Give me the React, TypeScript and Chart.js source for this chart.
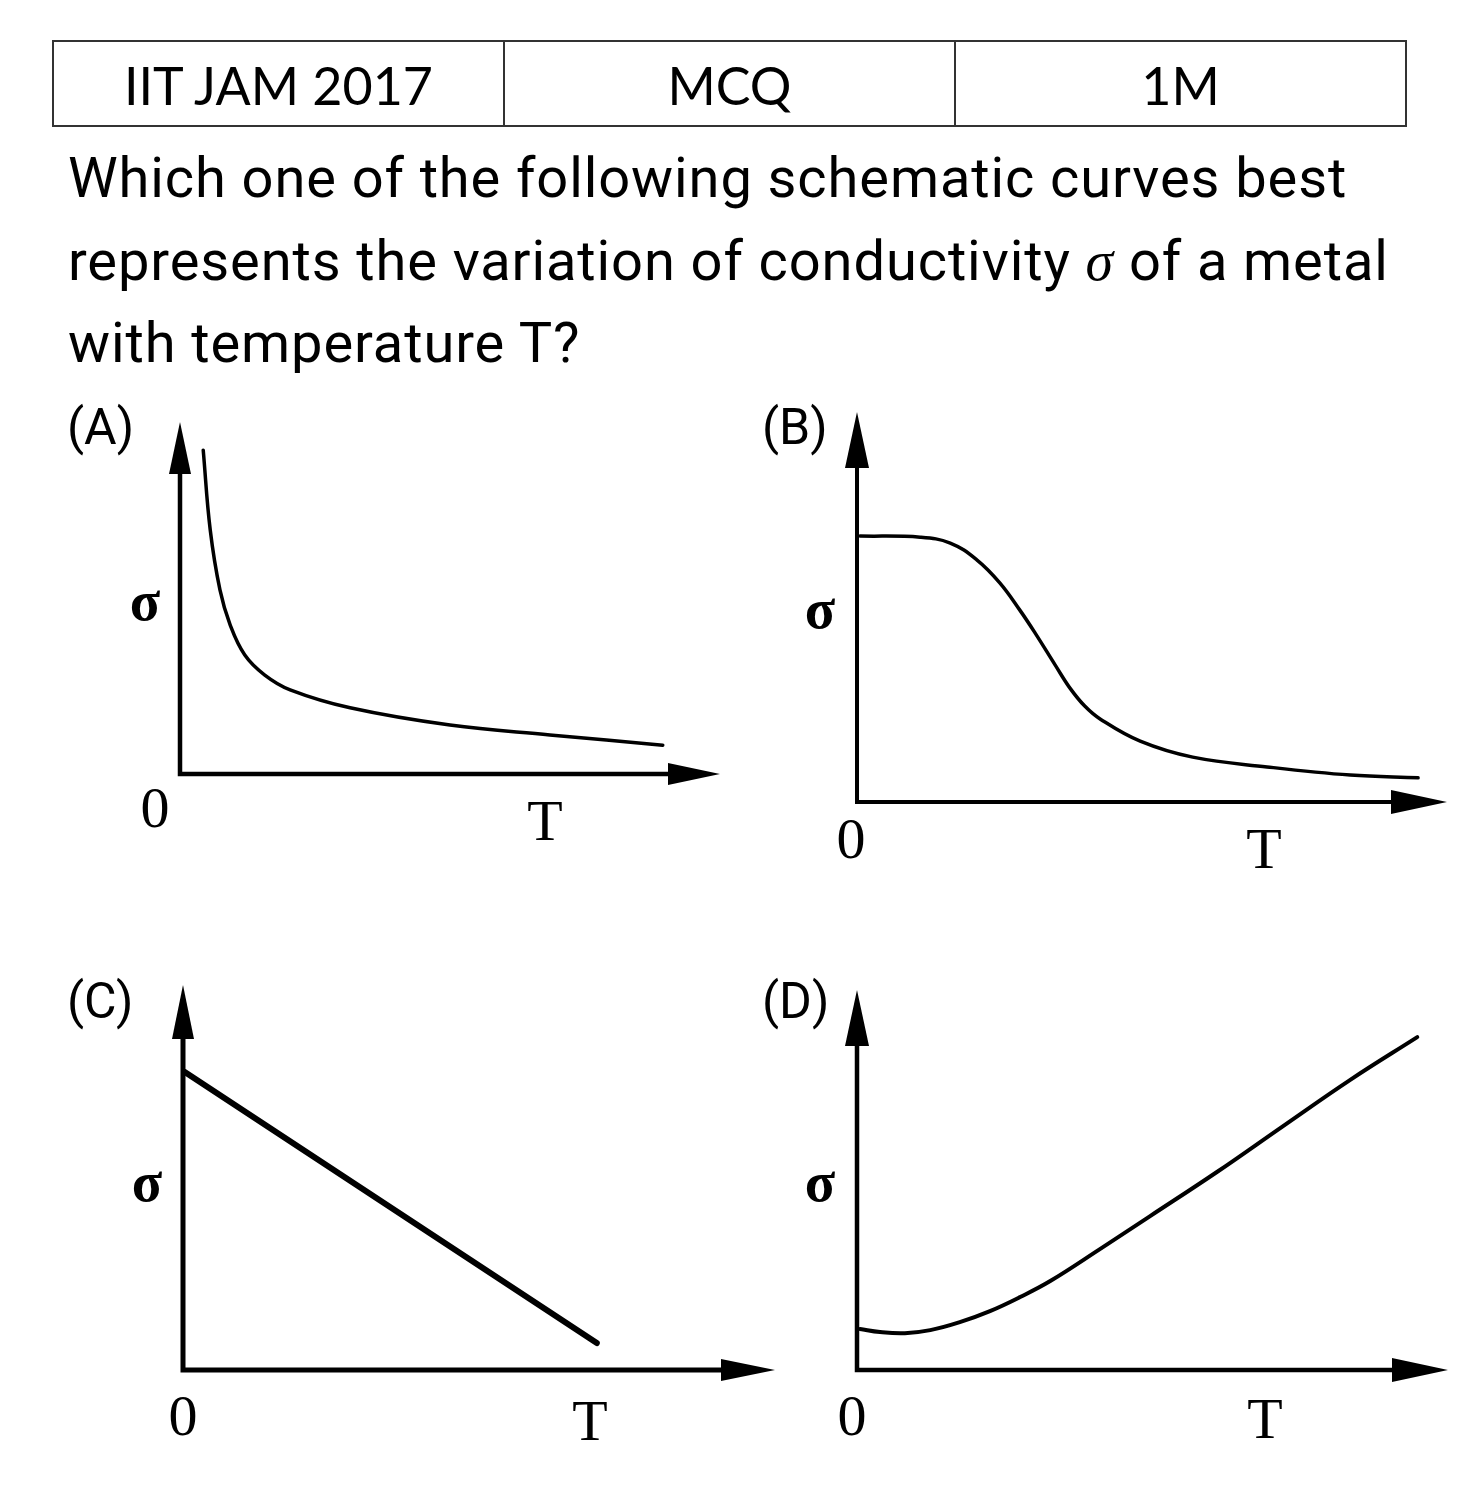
import React, { useEffect, useRef } from "react";
import { Chart, registerables } from "chart.js";

Chart.register(...registerables);

// ---- Data (axis units: 0..100 on both axes of each schematic) ----
const headerCells = ["IIT JAM 2017", "MCQ", "1M"];
const questionLines = [
  "Which one of the following schematic curves best",
  "represents the variation of conductivity σ of a metal",
  "with temperature T?",
];
const optionLabels = ["(A)", "(B)", "(C)", "(D)"];
const yAxisLabel = "σ";
const originLabel = "0";
const xAxisLabel = "T";

const curveA_T = [4.3, 5.6, 7.4, 9.3, 12.0, 15.7, 20.4, 31.5, 50.0, 68.5, 89.4];
const curveA_S = [92.0, 69.3, 52.3, 42.3, 33.8, 28.1, 23.9, 18.8, 13.9, 11.1, 8.2];

const curveB_T = [0.5, 10.7, 15.8, 20.3, 24.2, 27.6, 30.2, 33.6, 36.1, 38.6, 41.2, 48.0, 56.9, 69.5, 83.6, 95.1];
const curveB_S = [68.2, 67.9, 66.4, 62.1, 56.2, 49.2, 43.3, 35.1, 29.2, 24.6, 21.3, 15.6, 11.5, 9.0, 6.9, 6.2];

const curveC_T = [0.3, 69.9];
const curveC_S = [77.4, 7.0];

const curveD_T = [0.5, 3.9, 8.1, 12.4, 17.4, 22.5, 27.6, 32.7, 41.1, 49.6, 60.9, 72.1, 83.4, 94.8];
const curveD_S = [10.8, 10.0, 9.7, 10.5, 12.6, 15.5, 19.2, 23.4, 31.8, 40.5, 52.1, 64.2, 76.3, 87.6];

// ---- Layout (page pixels) ----
type Panel = {
  t: number[];
  s: number[];
  smooth: boolean;
  canvas: { left: number; top: number; w: number; h: number };
  area: { left: number; top: number; right: number; bottom: number };
  lw: number;
  axisW: number;
  head: number;
  headHalf: number;
  sigma: [number, number];
  zero: [number, number];
  tee: [number, number];
  tag: [number, number];
};

const panels: Panel[] = [
  {
    t: curveA_T, s: curveA_S, smooth: true,
    canvas: { left: 90, top: 395, w: 650, h: 460 },
    area: { left: 180, top: 422, right: 720, bottom: 774 },
    lw: 3.5, axisW: 4.5, head: 52, headHalf: 11,
    sigma: [145, 612], zero: [155, 812], tee: [545, 825], tag: [67, 432],
  },
  {
    t: curveB_T, s: curveB_S, smooth: true,
    canvas: { left: 770, top: 395, w: 689, h: 480 },
    area: { left: 857, top: 412, right: 1447, bottom: 802 },
    lw: 3.5, axisW: 4, head: 56, headHalf: 12,
    sigma: [820, 620], zero: [851, 843], tee: [1264, 853], tag: [762, 432],
  },
  {
    t: curveC_T, s: curveC_S, smooth: false,
    canvas: { left: 90, top: 970, w: 700, h: 490 },
    area: { left: 183, top: 985, right: 775, bottom: 1370 },
    lw: 6, axisW: 5, head: 54, headHalf: 11,
    sigma: [147, 1193], zero: [183, 1420], tee: [590, 1425], tag: [67, 1006],
  },
  {
    t: curveD_T, s: curveD_S, smooth: true,
    canvas: { left: 770, top: 975, w: 689, h: 490 },
    area: { left: 857, top: 990, right: 1448, bottom: 1370 },
    lw: 4, axisW: 4.5, head: 56, headHalf: 12,
    sigma: [820, 1193], zero: [852, 1420], tee: [1265, 1423], tag: [762, 1006],
  },
];

const arrowAxes = {
  id: "arrowAxes",
  afterDatasetsDraw(chart: any, _args: any, opts: any) {
    const { ctx } = chart;
    const xs = chart.scales.x;
    const ys = chart.scales.y;
    const ox = xs.getPixelForValue(0);
    const oy = ys.getPixelForValue(0);
    const xt = xs.getPixelForValue(xs.max);
    const yt = ys.getPixelForValue(ys.max);
    const h = opts.head;
    const hw = opts.headHalf;
    ctx.save();
    ctx.strokeStyle = "#000";
    ctx.fillStyle = "#000";
    ctx.lineWidth = opts.axisW;
    ctx.lineCap = "butt";
    ctx.lineJoin = "miter";
    ctx.beginPath();
    ctx.moveTo(ox, yt + h - 2);
    ctx.lineTo(ox, oy);
    ctx.lineTo(xt - h + 2, oy);
    ctx.stroke();
    // y arrow head
    ctx.beginPath();
    ctx.moveTo(ox, yt);
    ctx.lineTo(ox - hw, yt + h);
    ctx.lineTo(ox + hw, yt + h);
    ctx.closePath();
    ctx.fill();
    // x arrow head
    ctx.beginPath();
    ctx.moveTo(xt, oy);
    ctx.lineTo(xt - h, oy - hw);
    ctx.lineTo(xt - h, oy + hw);
    ctx.closePath();
    ctx.fill();
    // labels
    ctx.textAlign = "center";
    ctx.textBaseline = "middle";
    ctx.font = "bold 56px 'Liberation Serif', 'DejaVu Serif', serif";
    ctx.fillText(yAxisLabel, opts.sigma[0], opts.sigma[1] - 6);
    ctx.font = "58px 'Liberation Serif', 'DejaVu Serif', serif";
    ctx.fillText(originLabel, opts.zero[0], opts.zero[1]);
    ctx.fillText(xAxisLabel, opts.tee[0], opts.tee[1]);
    ctx.restore();
  },
};

function PanelChart({ p }: { p: Panel }) {
  const ref = useRef<HTMLCanvasElement | null>(null);
  useEffect(() => {
    if (!ref.current) return;
    const c = p.canvas;
    const chart = new Chart(ref.current, {
      type: "line",
      data: {
        datasets: [
          {
            data: p.t.map((x, i) => ({ x, y: p.s[i] })),
            borderColor: "#000",
            borderWidth: p.lw,
            pointRadius: 0,
            fill: false,
            tension: p.smooth ? 0.4 : 0,
            borderCapStyle: "round",
            borderJoinStyle: "round",
          } as any,
        ],
      },
      options: {
        animation: false,
        responsive: false,
        events: [],
        layout: {
          padding: {
            left: p.area.left - c.left,
            top: p.area.top - c.top,
            right: c.left + c.w - p.area.right,
            bottom: c.top + c.h - p.area.bottom,
          },
        },
        plugins: {
          legend: { display: false },
          tooltip: { enabled: false },
          arrowAxes: {
            head: p.head,
            headHalf: p.headHalf,
            axisW: p.axisW,
            sigma: [p.sigma[0] - c.left, p.sigma[1] - c.top],
            zero: [p.zero[0] - c.left, p.zero[1] - c.top],
            tee: [p.tee[0] - c.left, p.tee[1] - c.top],
          },
        } as any,
        scales: {
          x: { type: "linear", min: 0, max: 100, display: false },
          y: { type: "linear", min: 0, max: 100, display: false },
        },
      },
      plugins: [arrowAxes],
    });
    return () => chart.destroy();
  }, [p]);
  return (
    <canvas
      ref={ref}
      width={p.canvas.w}
      height={p.canvas.h}
      style={{ position: "absolute", left: p.canvas.left, top: p.canvas.top, width: p.canvas.w, height: p.canvas.h }}
    />
  );
}

export default function App() {
  const sans = "Roboto, 'Noto Sans', sans-serif";
  const qSize = 56;
  const baselines = [197, 280, 362];
  return (
    <div style={{ position: "absolute", left: 0, top: 0, width: 1459, height: 1500, background: "#fff", overflow: "hidden" }}>
      {/* header table */}
      <div
        style={{
          position: "absolute", left: 52, top: 40, width: 1355, height: 87,
          boxSizing: "border-box", border: "2px solid #333", display: "flex",
        }}
      >
        {headerCells.map((h, i) => (
          <div
            key={h}
            style={{
              flex: 1, boxSizing: "border-box",
              borderLeft: i === 0 ? "none" : "2px solid #333",
              display: "flex", alignItems: "center", justifyContent: "center",
              fontFamily: "Lato, 'Open Sans', sans-serif", fontSize: 52, color: "#000",
              lineHeight: "60px", paddingTop: 2,
            }}
          >
            {h}
          </div>
        ))}
      </div>
      {/* question */}
      {questionLines.map((line, i) => {
        const parts = line.split("σ");
        return (
          <div
            key={i}
            style={{
              position: "absolute", left: 68, top: baselines[i] - Math.round(qSize * 0.928),
              fontFamily: sans, fontSize: qSize, lineHeight: "normal", whiteSpace: "nowrap", color: "#000",
              letterSpacing: 0.9,
            }}
          >
            {parts.length > 1 ? (
              <>
                {parts[0]}
                <span style={{ fontFamily: "'Liberation Serif', serif", fontStyle: "italic" }}>σ</span>
                {parts[1]}
              </>
            ) : (
              line
            )}
          </div>
        );
      })}
      {/* option tags */}
      {panels.map((p, i) => (
        <div
          key={"tag" + i}
          style={{
            position: "absolute", left: p.tag[0], top: p.tag[1] - 34,
            fontFamily: sans, fontSize: 50, lineHeight: "normal", whiteSpace: "nowrap", color: "#000",
          }}
        >
          {optionLabels[i]}
        </div>
      ))}
      {panels.map((p, i) => (
        <PanelChart key={i} p={p} />
      ))}
    </div>
  );
}
